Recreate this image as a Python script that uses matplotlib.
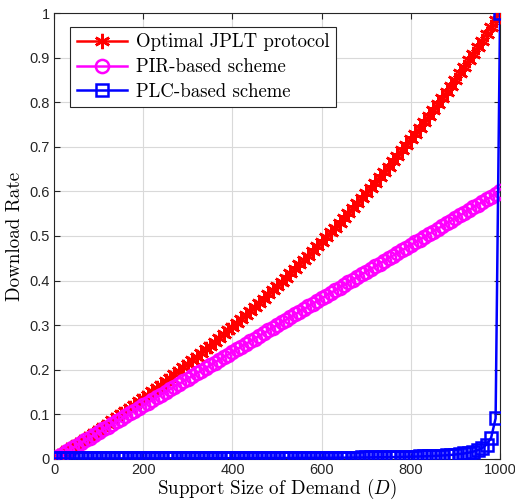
import matplotlib
matplotlib.use("Agg")
import matplotlib.pyplot as plt

D = list(range(0, 1001, 10))

optimal_jplt = [
    0.0, 0.0064, 0.0128, 0.0192, 0.0257, 0.0322, 0.0388, 0.0455, 0.0522, 0.0589,
    0.0657, 0.0725, 0.0794, 0.0864, 0.0934, 0.1005, 0.1076, 0.1148, 0.1220, 0.1293,
    0.1366, 0.1440, 0.1515, 0.1590, 0.1666, 0.1742, 0.1819, 0.1897, 0.1975, 0.2054,
    0.2134, 0.2214, 0.2295, 0.2376, 0.2459, 0.2542, 0.2625, 0.2710, 0.2795, 0.2881,
    0.2967, 0.3055, 0.3143, 0.3232, 0.3321, 0.3412, 0.3503, 0.3595, 0.3688, 0.3781,
    0.3876, 0.3971, 0.4068, 0.4165, 0.4263, 0.4362, 0.4461, 0.4562, 0.4664, 0.4766,
    0.4870, 0.4975, 0.5080, 0.5187, 0.5295, 0.5403, 0.5513, 0.5624, 0.5735, 0.5848,
    0.5963, 0.6078, 0.6194, 0.6312, 0.6430, 0.6550, 0.6671, 0.6794, 0.6917, 0.7042,
    0.7168, 0.7296, 0.7425, 0.7555, 0.7687, 0.7820, 0.7954, 0.8090, 0.8227, 0.8366,
    0.8507, 0.8649, 0.8792, 0.8937, 0.9084, 0.9232, 0.9382, 0.9534, 0.9688, 0.9843,
    1.0,
]

pir_based = [
    0.000, 0.006, 0.012, 0.018, 0.024, 0.030, 0.036, 0.042, 0.048, 0.054,
    0.060, 0.066, 0.072, 0.078, 0.084, 0.090, 0.096, 0.102, 0.108, 0.114,
    0.120, 0.126, 0.132, 0.138, 0.144, 0.150, 0.156, 0.162, 0.168, 0.174,
    0.180, 0.186, 0.192, 0.198, 0.204, 0.210, 0.216, 0.222, 0.228, 0.234,
    0.240, 0.246, 0.252, 0.258, 0.264, 0.270, 0.276, 0.282, 0.288, 0.294,
    0.300, 0.306, 0.312, 0.318, 0.324, 0.330, 0.336, 0.342, 0.348, 0.354,
    0.360, 0.366, 0.372, 0.378, 0.384, 0.390, 0.396, 0.402, 0.408, 0.414,
    0.420, 0.426, 0.432, 0.438, 0.444, 0.450, 0.456, 0.462, 0.468, 0.474,
    0.480, 0.486, 0.492, 0.498, 0.504, 0.510, 0.516, 0.522, 0.528, 0.534,
    0.540, 0.546, 0.552, 0.558, 0.564, 0.570, 0.576, 0.582, 0.588, 0.594,
    0.600,
]

plc_based = [
    0.0010, 0.0010, 0.0010, 0.0010, 0.0010, 0.0011, 0.0011, 0.0011, 0.0011, 0.0011,
    0.0011, 0.0011, 0.0011, 0.0011, 0.0012, 0.0012, 0.0012, 0.0012, 0.0012, 0.0012,
    0.0012, 0.0013, 0.0013, 0.0013, 0.0013, 0.0013, 0.0014, 0.0014, 0.0014, 0.0014,
    0.0014, 0.0014, 0.0015, 0.0015, 0.0015, 0.0015, 0.0016, 0.0016, 0.0016, 0.0016,
    0.0017, 0.0017, 0.0017, 0.0018, 0.0018, 0.0018, 0.0018, 0.0019, 0.0019, 0.0020,
    0.0020, 0.0020, 0.0021, 0.0021, 0.0022, 0.0022, 0.0023, 0.0023, 0.0024, 0.0024,
    0.0025, 0.0026, 0.0026, 0.0027, 0.0028, 0.0028, 0.0029, 0.0030, 0.0031, 0.0032,
    0.0033, 0.0034, 0.0036, 0.0037, 0.0038, 0.0040, 0.0041, 0.0043, 0.0045, 0.0047,
    0.0050, 0.0052, 0.0055, 0.0058, 0.0062, 0.0066, 0.0071, 0.0076, 0.0083, 0.0090,
    0.0099, 0.0110, 0.0123, 0.0141, 0.0164, 0.0196, 0.0244, 0.0323, 0.0476, 0.0909,
    1.0,
]

x_ticks = [0, 200, 400, 600, 800, 1000]
y_ticks = [0, 0.1, 0.2, 0.3, 0.4, 0.5, 0.6, 0.7, 0.8, 0.9, 1]
y_tick_labels = ["0", "0.1", "0.2", "0.3", "0.4", "0.5", "0.6", "0.7", "0.8", "0.9", "1"]

plt.rcParams["mathtext.fontset"] = "cm"

fig = plt.figure(figsize=(5.15, 5.01), dpi=100)
ax = fig.add_axes([0.105, 0.084, 0.866, 0.89])

ax.plot(D, optimal_jplt, color="red", marker=(6, 2, 0), markersize=11, linewidth=1.8,
        markeredgewidth=1.8, label="Optimal JPLT protocol", zorder=3)
ax.plot(D, pir_based, color="magenta", marker="o", markersize=9.5, linewidth=1.8,
        markerfacecolor="none", markeredgewidth=1.8, label="PIR-based scheme", zorder=3)
ax.plot(D, plc_based, color="blue", marker="s", markersize=8, linewidth=1.8,
        markerfacecolor="none", markeredgewidth=1.8, label="PLC-based scheme", zorder=3)

ax.set_xlim(0, 1000)
ax.set_ylim(0, 1)
ax.set_xticks(x_ticks)
ax.set_xticklabels([str(t) for t in x_ticks])
ax.set_yticks(y_ticks)
ax.set_yticklabels(y_tick_labels)
ax.tick_params(direction="in", labelsize=10.5, colors="#262626", length=4,
               top=True, right=True, pad=3)
for lab in ax.get_xticklabels() + ax.get_yticklabels():
    lab.set_family("Liberation Sans")
ax.grid(True, color="#d9d9d9", linewidth=0.8)
ax.set_axisbelow(True)
for s in ax.spines.values():
    s.set_color("#262626")
    s.set_linewidth(0.8)

ax.set_xlabel(r"Support Size of Demand ($D$)", family="cmr10", fontsize=13.7, labelpad=0)
ax.set_ylabel("Download Rate", family="cmr10", fontsize=13.7, labelpad=4)

leg = ax.legend(loc="upper left", bbox_to_anchor=(0.036, 0.969),
                prop={"family": "cmr10", "size": 13.5},
                fancybox=False, edgecolor="#262626", framealpha=1, handlelength=2.7,
                borderpad=0.35, labelspacing=0.36, handletextpad=0.45, borderaxespad=0.0)
leg.get_frame().set_linewidth(0.8)

fig.savefig("out.png", dpi=100)
